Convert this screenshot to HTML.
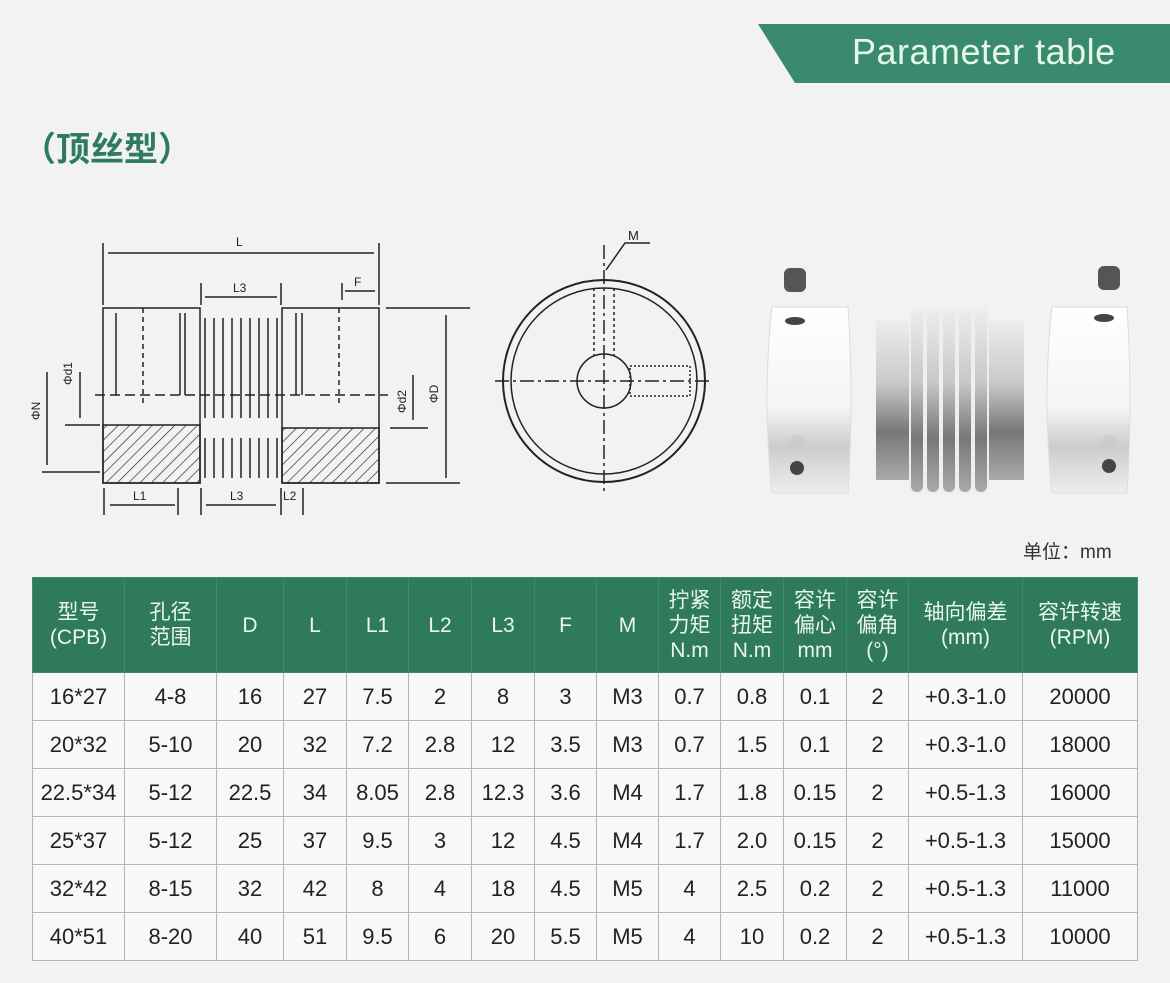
<!DOCTYPE html>
<html><head><meta charset="utf-8"><style>
body{margin:0;width:1170px;height:983px;background:#f2f2f2;position:relative;overflow:hidden;font-family:"Liberation Sans","Noto Sans CJK SC",sans-serif;}
.banner{position:absolute;left:758px;top:24px;width:412px;height:59px;background:#3a8a6e;clip-path:polygon(0 0,100% 0,100% 100%,37px 100%);}
.banner span{position:absolute;left:94px;top:7px;color:#e4f7ec;font-size:36px;letter-spacing:0.5px;}
.sub{position:absolute;left:22px;top:122px;color:#2e7b5d;font-size:34px;font-weight:bold;}
.unit{position:absolute;left:1023px;top:537px;font-size:19px;color:#333;}
table{position:absolute;left:32px;top:577px;border-collapse:collapse;table-layout:fixed;}
td{border:1px solid #b5b5b5;text-align:center;font-size:22px;color:#222;padding:0;height:47px;background:#f8f8f8;}
tr.h td{background:#2f7a5c;color:#e8f6ee;height:94px;font-size:21px;line-height:25px;border-color:#3d8a6c;}
</style></head><body>
<div class="banner"><span>Parameter table</span></div>
<div class="sub">（顶丝型）</div>
<svg width="1170" height="560" style="position:absolute;left:0;top:0" stroke="#222" fill="none" stroke-width="1.5">
<defs><pattern id="hz" width="8" height="8" patternUnits="userSpaceOnUse" patternTransform="rotate(45)"><line x1="0" y1="0" x2="0" y2="8" stroke="#222" stroke-width="1.3"/></pattern>
<linearGradient id="m" x1="0" y1="0" x2="0" y2="1"><stop offset="0" stop-color="#fff"/><stop offset=".55" stop-color="#f4f4f4"/><stop offset=".75" stop-color="#ccc"/><stop offset="1" stop-color="#eee"/></linearGradient>
<linearGradient id="b" x1="0" y1="0" x2="0" y2="1"><stop offset="0" stop-color="#eee"/><stop offset=".4" stop-color="#c8c8c8"/><stop offset=".7" stop-color="#777"/><stop offset="1" stop-color="#aaa"/></linearGradient></defs>
<line x1="103" y1="243" x2="103" y2="305"/><line x1="379" y1="243" x2="379" y2="305"/>
<line x1="108" y1="253" x2="374" y2="253"/><text x="236" y="246" font-size="12" fill="#222" stroke="none">L</text>
<line x1="201" y1="283" x2="201" y2="305"/><line x1="281" y1="283" x2="281" y2="305"/>
<line x1="205" y1="297" x2="277" y2="297"/><text x="233" y="292" font-size="12" fill="#222" stroke="none">L3</text>
<line x1="342" y1="283" x2="342" y2="300"/><line x1="345" y1="291" x2="375" y2="291"/><text x="354" y="286" font-size="12" fill="#222" stroke="none">F</text>
<rect x="103" y="308" width="97" height="175"/><rect x="282" y="308" width="97" height="175"/>
<rect x="103" y="425" width="97" height="58" fill="url(#hz)"/><rect x="282" y="428" width="97" height="55" fill="url(#hz)"/>
<line x1="116" y1="313" x2="116" y2="395"/><line x1="180" y1="313" x2="180" y2="395"/><line x1="185" y1="313" x2="185" y2="395"/>
<line x1="296" y1="313" x2="296" y2="395"/><line x1="302" y1="313" x2="302" y2="395"/>
<line x1="143" y1="308" x2="143" y2="405" stroke-dasharray="5 4"/><line x1="339" y1="308" x2="339" y2="405" stroke-dasharray="5 4"/>
<line x1="95" y1="395" x2="388" y2="395" stroke-dasharray="10 5"/>
<path d="M205 318 v100 M214 318 v100 M223 318 v100 M232 318 v100 M241 318 v100 M250 318 v100 M259 318 v100 M268 318 v100 M277 318 v100"/>
<path d="M205 438 v40 M214 438 v40 M223 438 v40 M232 438 v40 M241 438 v40 M250 438 v40 M259 438 v40 M268 438 v40 M277 438 v40"/>
<line x1="47" y1="372" x2="47" y2="465"/><line x1="80" y1="372" x2="80" y2="418"/>
<line x1="65" y1="425" x2="100" y2="425"/><line x1="42" y1="472" x2="100" y2="472"/>
<text x="40" y="420" font-size="12" fill="#222" stroke="none" transform="rotate(-90 40 420)">ΦN</text>
<text x="72" y="385" font-size="12" fill="#222" stroke="none" transform="rotate(-90 72 385)">Φd1</text>
<line x1="386" y1="308" x2="470" y2="308"/><line x1="386" y1="483" x2="460" y2="483"/><line x1="390" y1="428" x2="428" y2="428"/>
<line x1="446" y1="315" x2="446" y2="478"/><line x1="413" y1="375" x2="413" y2="420"/>
<text x="406" y="413" font-size="12" fill="#222" stroke="none" transform="rotate(-90 406 413)">Φd2</text>
<text x="438" y="403" font-size="12" fill="#222" stroke="none" transform="rotate(-90 438 403)">ΦD</text>
<line x1="104" y1="488" x2="104" y2="515"/><line x1="178" y1="488" x2="178" y2="515"/><line x1="201" y1="488" x2="201" y2="515"/><line x1="281" y1="488" x2="281" y2="515"/><line x1="303" y1="488" x2="303" y2="515"/>
<line x1="110" y1="505" x2="175" y2="505"/><line x1="206" y1="505" x2="276" y2="505"/>
<text x="133" y="500" font-size="12" fill="#222" stroke="none">L1</text><text x="230" y="500" font-size="12" fill="#222" stroke="none">L3</text><text x="283" y="500" font-size="12" fill="#222" stroke="none">L2</text>
<circle cx="604" cy="381" r="101" stroke-width="2"/><circle cx="604" cy="381" r="93"/><circle cx="604" cy="381" r="27"/>
<line x1="495" y1="381" x2="712" y2="381" stroke-dasharray="14 4 3 4"/><line x1="604" y1="245" x2="604" y2="492" stroke-dasharray="14 4 3 4"/>
<rect x="630" y="366" width="60" height="30" stroke-dasharray="2 2"/>
<line x1="594" y1="288" x2="594" y2="356" stroke-dasharray="3 3"/><line x1="614" y1="288" x2="614" y2="356" stroke-dasharray="3 3"/>
<path d="M606 270 L625 243 H650"/><text x="628" y="240" font-size="13" fill="#222" stroke="none">M</text>
<g stroke="none">
<rect x="784" y="268" width="22" height="24" rx="6" fill="#555"/><rect x="1098" y="266" width="22" height="24" rx="6" fill="#555"/>
<path d="M772 307 H848 Q854 400 848 493 H772 Q762 400 772 307Z" fill="url(#m)" stroke="#ddd" stroke-width="1"/>
<path d="M1052 307 H1127 Q1133 400 1127 493 H1052 Q1042 400 1052 307Z" fill="url(#m)" stroke="#ddd" stroke-width="1"/>
<ellipse cx="795" cy="321" rx="10" ry="4" fill="#444"/><ellipse cx="1104" cy="318" rx="10" ry="4" fill="#444"/>
<circle cx="797" cy="443" r="8" fill="#ccc"/><circle cx="797" cy="468" r="7" fill="#444"/>
<circle cx="1109" cy="443" r="8" fill="#ccc"/><circle cx="1109" cy="466" r="7" fill="#444"/>
<rect x="876" y="320" width="148" height="160" fill="url(#b)"/>
<g fill="url(#b)" stroke="#eee" stroke-width="2"><rect x="910" y="308" width="14" height="185" rx="7"/><rect x="926" y="308" width="14" height="185" rx="7"/><rect x="942" y="308" width="14" height="185" rx="7"/><rect x="958" y="308" width="14" height="185" rx="7"/><rect x="974" y="308" width="14" height="185" rx="7"/></g>
</g>
</svg>
<div class="unit">单位：mm</div>
<table>
<colgroup><col style="width:92px"><col style="width:92px"><col style="width:67px"><col style="width:63px"><col style="width:62px"><col style="width:63px"><col style="width:63px"><col style="width:62px"><col style="width:62px"><col style="width:62px"><col style="width:63px"><col style="width:63px"><col style="width:62px"><col style="width:114px"><col style="width:115px"></colgroup>
<tr class="h"><td>型号<br>(CPB)</td><td>孔径<br>范围</td><td>D</td><td>L</td><td>L1</td><td>L2</td><td>L3</td><td>F</td><td>M</td><td>拧紧<br>力矩<br>N.m</td><td>额定<br>扭矩<br>N.m</td><td>容许<br>偏心<br>mm</td><td>容许<br>偏角<br>(°)</td><td>轴向偏差<br>(mm)</td><td>容许转速<br>(RPM)</td></tr>
<tr><td>16*27</td><td>4-8</td><td>16</td><td>27</td><td>7.5</td><td>2</td><td>8</td><td>3</td><td>M3</td><td>0.7</td><td>0.8</td><td>0.1</td><td>2</td><td>+0.3-1.0</td><td>20000</td></tr>
<tr><td>20*32</td><td>5-10</td><td>20</td><td>32</td><td>7.2</td><td>2.8</td><td>12</td><td>3.5</td><td>M3</td><td>0.7</td><td>1.5</td><td>0.1</td><td>2</td><td>+0.3-1.0</td><td>18000</td></tr>
<tr><td>22.5*34</td><td>5-12</td><td>22.5</td><td>34</td><td>8.05</td><td>2.8</td><td>12.3</td><td>3.6</td><td>M4</td><td>1.7</td><td>1.8</td><td>0.15</td><td>2</td><td>+0.5-1.3</td><td>16000</td></tr>
<tr><td>25*37</td><td>5-12</td><td>25</td><td>37</td><td>9.5</td><td>3</td><td>12</td><td>4.5</td><td>M4</td><td>1.7</td><td>2.0</td><td>0.15</td><td>2</td><td>+0.5-1.3</td><td>15000</td></tr>
<tr><td>32*42</td><td>8-15</td><td>32</td><td>42</td><td>8</td><td>4</td><td>18</td><td>4.5</td><td>M5</td><td>4</td><td>2.5</td><td>0.2</td><td>2</td><td>+0.5-1.3</td><td>11000</td></tr>
<tr><td>40*51</td><td>8-20</td><td>40</td><td>51</td><td>9.5</td><td>6</td><td>20</td><td>5.5</td><td>M5</td><td>4</td><td>10</td><td>0.2</td><td>2</td><td>+0.5-1.3</td><td>10000</td></tr>
</table>
</body></html>
